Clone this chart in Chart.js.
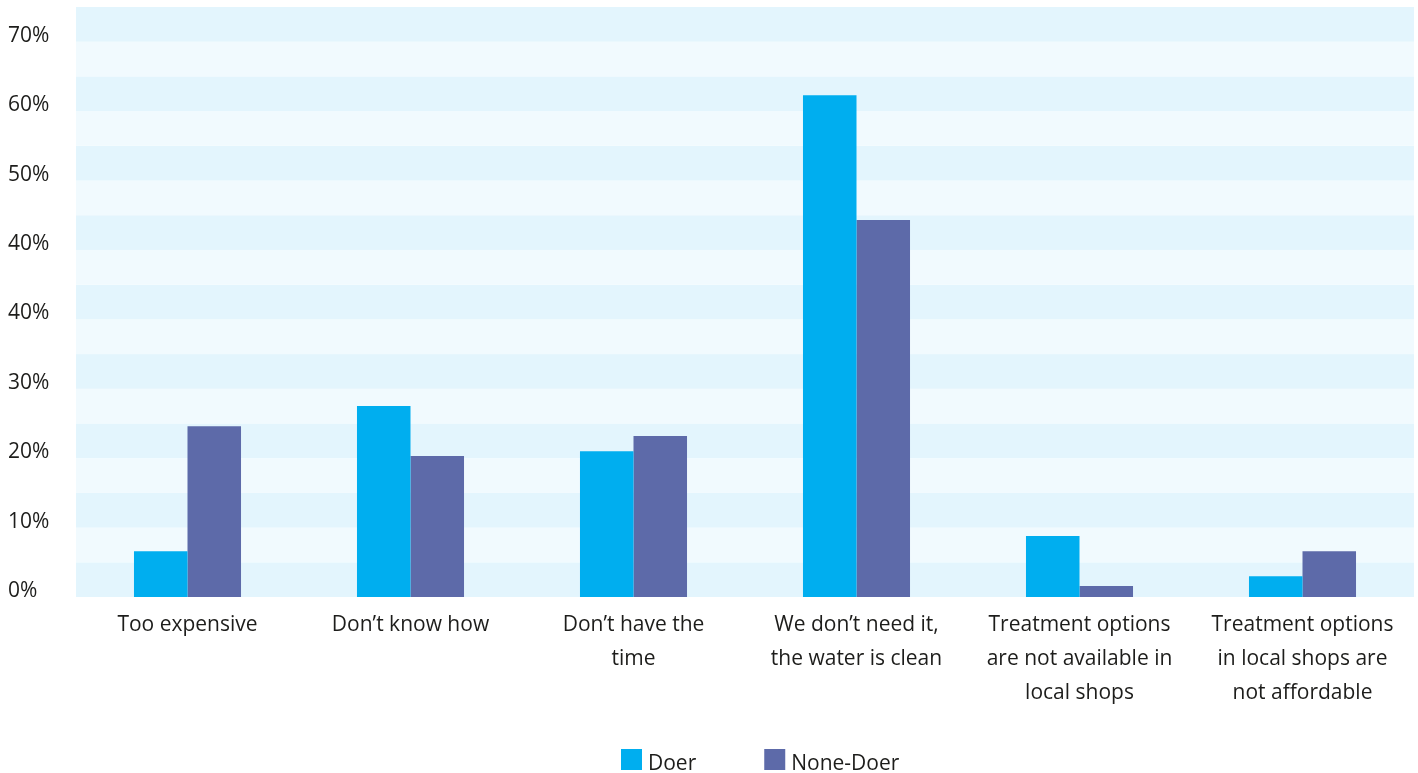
<!DOCTYPE html>
<html>
<head>
<meta charset="utf-8">
<title>Reasons for not treating water</title>
<script src="https://cdn.jsdelivr.net/npm/chart.js@4/dist/chart.umd.min.js"></script>
<style>
  html, body { margin: 0; padding: 0; background: #ffffff; }
  #wrap { width: 1418px; height: 773px; position: relative; }
</style>
</head>
<body>
<div id="wrap"><canvas id="chart"></canvas></div>
<script>
// Survey answers: why households do not treat their drinking water
const categories = [
  ['Too expensive'],
  ['Don\u2019t know how'],
  ['Don\u2019t have the', 'time'],
  ['We don\u2019t need it,', 'the water is clean'],
  ['Treatment options', 'are not available in', 'local shops'],
  ['Treatment options', 'in local shops are', 'not affordable']
];
const seriesNames = ['Doer', 'None-Doer'];
const doerValues = [6.6, 27.5, 21.0, 72.3, 8.8, 3.0];
const noneDoerValues = [24.6, 20.3, 23.2, 54.3, 1.6, 6.6];
// Axis labels as printed, one per 10-point step from the baseline
const yTickLabels = ['0%', '10%', '20%', '30%', '40%', '40%', '50%', '60%', '70%'];

const FONT = 'Open Sans';
const TEXT = '#1d1d1b';
const BAND_DARK = '#e3f5fd';
const BAND_LIGHT = '#f1fafe';

// Alternating horizontal bands behind the bars, one per 5 points
const bandPlugin = {
  id: 'bands',
  beforeDatasetsDraw(chart) {
    const { ctx, chartArea, scales } = chart;
    const y = scales.y;
    ctx.save();
    let i = 0;
    for (let v = y.min; v < y.max; v += 5, i++) {
      const top = y.getPixelForValue(Math.min(v + 5, y.max));
      const bottom = y.getPixelForValue(v);
      ctx.fillStyle = i % 2 === 0 ? BAND_DARK : BAND_LIGHT;
      ctx.fillRect(chartArea.left, top, chartArea.right - chartArea.left, bottom - top);
    }
    ctx.restore();
  }
};

// Compact legend row under the category labels
const legendRowPlugin = {
  id: 'legendRow',
  afterDraw(chart, args, opts) {
    const { ctx } = chart;
    ctx.save();
    ctx.font = opts.fontSize + 'px "' + FONT + '"';
    ctx.textBaseline = 'alphabetic';
    ctx.textAlign = 'left';
    let x = opts.x;
    chart.data.datasets.forEach(ds => {
      ctx.fillStyle = ds.backgroundColor;
      ctx.fillRect(x, opts.y, opts.box, opts.box);
      x += opts.box + opts.gap;
      ctx.fillStyle = TEXT;
      ctx.fillText(ds.label, x, opts.y + opts.box);
      x += ctx.measureText(ds.label).width + opts.spacing;
    });
    ctx.restore();
  }
};

new Chart(document.getElementById('chart'), {
  type: 'bar',
  data: {
    labels: categories,
    datasets: [
      { label: seriesNames[0], data: doerValues, backgroundColor: '#00aeef', borderWidth: 0 },
      { label: seriesNames[1], data: noneDoerValues, backgroundColor: '#5d6aa9', borderWidth: 0 }
    ]
  },
  options: {
    responsive: true,
    maintainAspectRatio: false,
    animation: false,
    datasets: { bar: { categoryPercentage: 0.48, barPercentage: 1.0 } },
    layout: { padding: { left: 8, top: 7, right: 4, bottom: 0 } },
    plugins: {
      legend: { display: false },
      tooltip: { enabled: false },
      legendRow: { x: 621, y: 749, box: 21, gap: 6, spacing: 68, fontSize: 21 }
    },
    scales: {
      x: {
        grid: { display: false, drawTicks: false },
        border: { display: false },
        ticks: {
          color: TEXT,
          padding: 11,
          maxRotation: 0,
          autoSkip: false,
          font: { family: FONT, size: 21, lineHeight: 1.62 }
        },
        afterFit(axis) {
          axis.height = 176;
          axis.paddingLeft = 0;
          axis.paddingRight = 0;
        }
      },
      y: {
        min: 0,
        max: 85,
        grid: { display: false, drawTicks: false },
        border: { display: false },
        ticks: {
          stepSize: 10,
          includeBounds: false,
          color: TEXT,
          crossAlign: 'far',
          labelOffset: -6,
          font: { family: FONT, size: 21 },
          callback: (value, index) => yTickLabels[index] ?? ''
        },
        afterFit(axis) {
          axis.width = 68;
          axis.paddingTop = 0;
          axis.paddingBottom = 0;
        }
      }
    }
  },
  plugins: [bandPlugin, legendRowPlugin]
});
</script>
</body>
</html>
